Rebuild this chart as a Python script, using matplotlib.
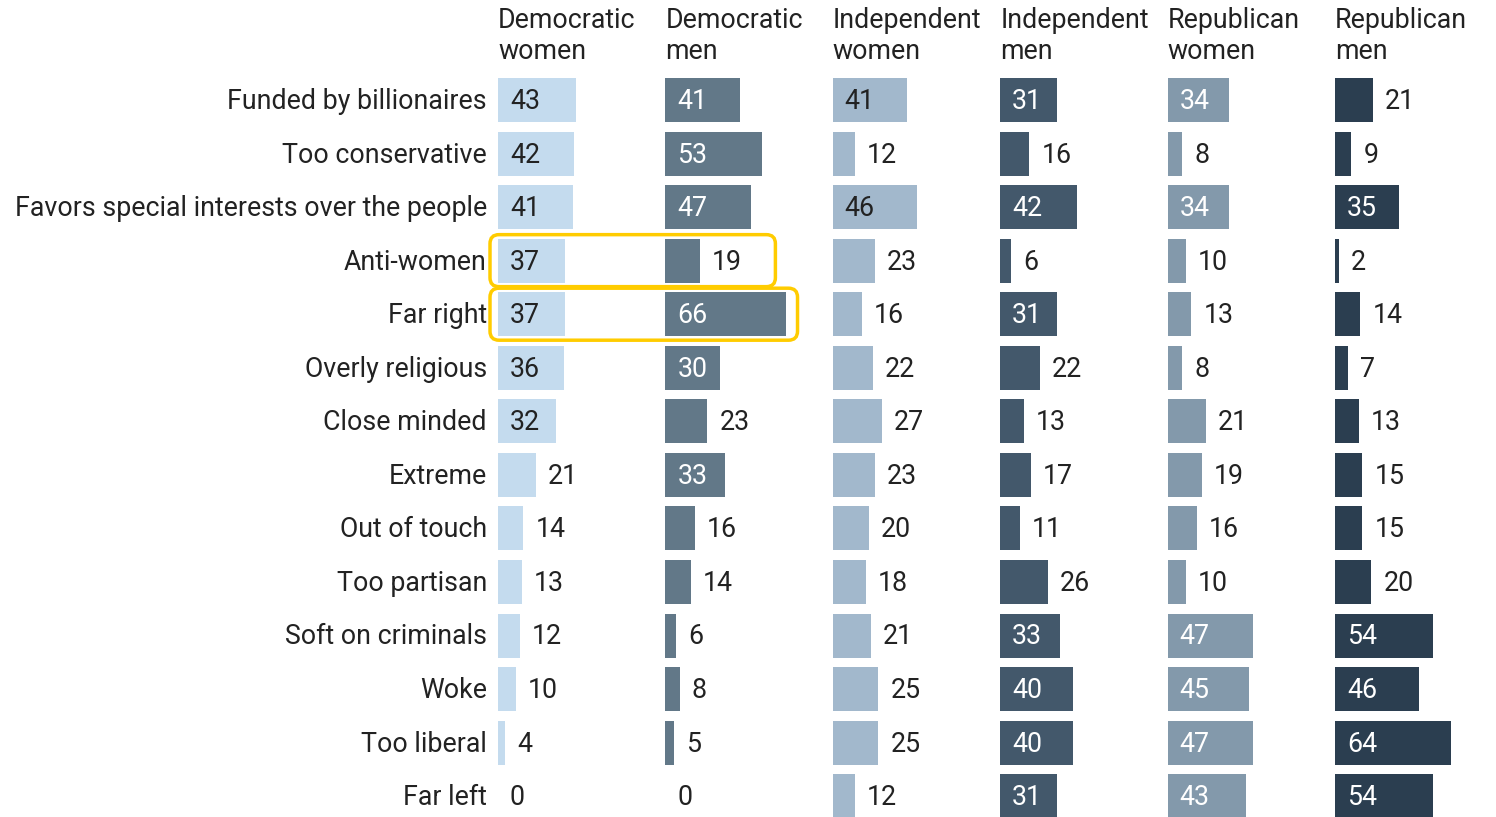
import matplotlib
matplotlib.use("Agg")
import matplotlib.pyplot as plt
from matplotlib.patches import FancyBboxPatch

plt.rcParams['font.family'] = ['Roboto', 'DejaVu Sans']

categories = ["Funded by billionaires", "Too conservative",
              "Favors special interests over the people", "Anti-women",
              "Far right", "Overly religious", "Close minded", "Extreme",
              "Out of touch", "Too partisan", "Soft on criminals", "Woke",
              "Too liberal", "Far left"]
groups = ["Democratic\nwomen", "Democratic\nmen", "Independent\nwomen",
          "Independent\nmen", "Republican\nwomen", "Republican\nmen"]

dem_women = [43, 42, 41, 37, 37, 36, 32, 21, 14, 13, 12, 10, 4, 0]
dem_men = [41, 53, 47, 19, 66, 30, 23, 33, 16, 14, 6, 8, 5, 0]
ind_women = [41, 12, 46, 23, 16, 22, 27, 23, 20, 18, 21, 25, 25, 12]
ind_men = [31, 16, 42, 6, 31, 22, 13, 17, 11, 26, 33, 40, 40, 31]
rep_women = [34, 8, 34, 10, 13, 8, 21, 19, 16, 10, 47, 45, 47, 43]
rep_men = [21, 9, 35, 2, 14, 7, 13, 15, 15, 20, 54, 46, 64, 54]
series = [dem_women, dem_men, ind_women, ind_men, rep_women, rep_men]

colors = ["#c4dbee", "#627888", "#a2b8cc", "#43586b", "#8399ab", "#2b3e50"]
inside_text = ["#222222", "white", "#222222", "white", "white", "white"]
highlight = [3, 4]  # rows boxed across the Democratic columns

W, H = 1496, 817
fig = plt.figure(figsize=(W / 100, H / 100), dpi=100)
ax = fig.add_axes([0, 0, 1, 1])
ax.set_xlim(0, W)
ax.set_ylim(H, 0)
ax.axis("off")

x0 = 498       # left edge of first column
step = 167.4   # column spacing
scale = 1.82   # pixels per percentage point
y_first = 100
row_h = 53.55
bar_h = 44
fs = 19.3
dy = 1.5       # nudge text to sit visually centred

ys = [y_first + i * row_h for i in range(len(categories))]

for i, lab in enumerate(categories):
    ax.text(487, ys[i] + dy, lab, ha="right", va="center", fontsize=fs,
            color="#222222")

for j, (vals, col) in enumerate(zip(series, colors)):
    left = x0 + j * step
    ax.text(left, 36, groups[j], ha="left", va="center", fontsize=fs,
            color="#222222", linespacing=1.22)
    widths = [v * scale for v in vals]
    ax.barh(ys, widths, left=left, height=bar_h, color=col, edgecolor="none")
    for y, v, w in zip(ys, vals, widths):
        if v >= 30:
            ax.text(left + 12, y + dy, str(v), ha="left", va="center",
                    fontsize=fs, color=inside_text[j])
        else:
            ax.text(left + w + 12, y + dy, str(v), ha="left", va="center",
                    fontsize=fs, color="#222222")

# yellow boxes around the highlighted rows
for r in highlight:
    y = ys[r]
    v = dem_men[r]
    end = x0 + step + v * scale
    if v < 30:
        end += 12 + 40
    right = max(end + 12, x0 + step + 110)
    box = FancyBboxPatch((490, y - 26), right - 490, 52,
                         boxstyle="round,pad=0,rounding_size=9",
                         fill=False, edgecolor="#ffcc00", linewidth=2.5, zorder=5)
    ax.add_patch(box)

fig.savefig("out.png", dpi=100)
